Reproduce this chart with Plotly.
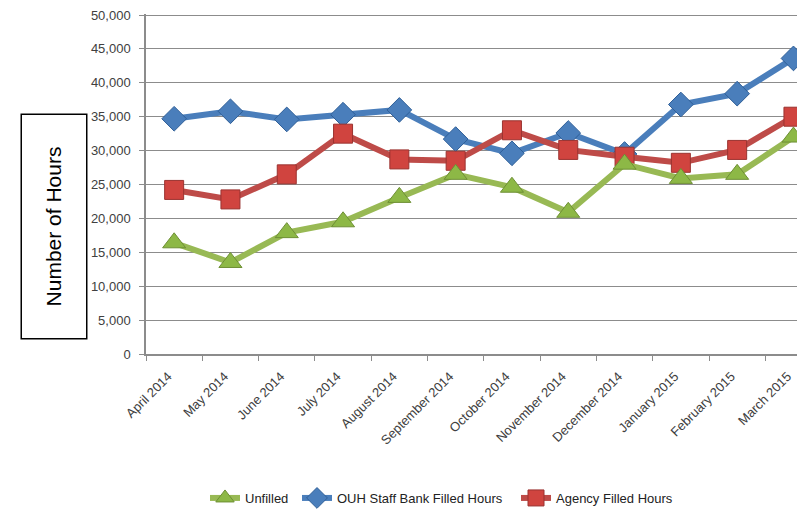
import plotly.graph_objects as go

months = ["April 2014", "May 2014", "June 2014", "July 2014", "August 2014",
          "September 2014", "October 2014", "November 2014", "December 2014",
          "January 2015", "February 2015", "March 2015"]
unfilled = [16400, 13500, 17900, 19500, 23100, 26500, 24600, 20900, 28000, 25900, 26500, 32000]
staff_bank = [34700, 35800, 34600, 35300, 36000, 31700, 29600, 32600, 29500, 36800, 38400, 43600]
agency = [24200, 22800, 26500, 32500, 28700, 28500, 33000, 30100, 29100, 28200, 30100, 35000]

BLUE = "#4A7EBB"
RED = "#BE4B48"
GREEN = "#98B954"
GRID = "#8C8C8C"
TXT = "#404040"
FONT = "Liberation Sans"

# page body has an 8px default margin: work in screen pixels, convert to figure pixels
OFF = 8
FW, FH = 805 - OFF, 514 - OFF
YMAX = 50150  # a little headroom so the 50,000 gridline is drawn
L, W = 146 - OFF, 659
H = 339 * YMAX / 50000
T = 354 - OFF - H

def px_x(sx):
    return (sx - OFF - L) / W

def px_y(sy):
    return (T + H - (sy - OFF)) / H

fig = go.Figure()
fig.add_trace(go.Scatter(
    x=months, y=staff_bank, name="OUH Staff Bank Filled Hours", mode="lines+markers",
    line=dict(color=BLUE, width=6), legend="legend2",
    marker=dict(symbol="diamond", size=19, color=BLUE,
                line=dict(color="#2F5F98", width=1))))
fig.add_trace(go.Scatter(
    x=months, y=agency, name="Agency Filled Hours", mode="lines+markers",
    line=dict(color=RED, width=6), legend="legend3",
    marker=dict(symbol="square", size=19, color="#D0443F",
                line=dict(color="#9A3330", width=1))))
fig.add_trace(go.Scatter(
    x=months, y=unfilled, name="Unfilled", mode="lines+markers",
    line=dict(color=GREEN, width=6), legend="legend",
    marker=dict(symbol="triangle-up", size=20, color="#8DB846",
                line=dict(color="#6E8F35", width=1))))

leg_common = dict(orientation="h", xanchor="left", yanchor="middle", y=px_y(498),
                  font=dict(family=FONT, size=13, color="#222222"),
                  bgcolor="rgba(0,0,0,0)", itemwidth=30)

fig.update_layout(
    width=FW, height=FH,
    margin=dict(l=L, r=FW - L - W, t=T, b=FH - T - H, autoexpand=False),
    paper_bgcolor="white", plot_bgcolor="white",
    font=dict(family=FONT, size=12, color=TXT),
    showlegend=True,
    legend=dict(leg_common, x=px_x(205)),
    legend2=dict(leg_common, x=px_x(297)),
    legend3=dict(leg_common, x=px_x(516)),
    annotations=[dict(
        text="Number of Hours", textangle=-90, xref="paper", yref="paper",
        x=px_x(54), y=px_y(226.5), xanchor="center", yanchor="middle",
        showarrow=False, font=dict(family=FONT, size=21, color="black"),
        width=223, height=64, bordercolor="black", borderwidth=1.5, borderpad=0,
        bgcolor="white")],
)

fig.update_xaxes(
    type="category", categoryorder="array", categoryarray=months, automargin=False,
    range=[-0.5, 11.205], showgrid=False, showline=True, linecolor=GRID, linewidth=1.5,
    ticks="outside", tickson="boundaries", ticklen=5, tickcolor=GRID,
    tickangle=-45, ticklabelshift=-6, ticklabelstandoff=8,
    tickfont=dict(family=FONT, size=13, color=TXT))
fig.update_yaxes(
    range=[0, YMAX], tickmode="linear", tick0=0, dtick=5000, tickformat=",",
    showgrid=True, gridcolor=GRID, ticklabeloverflow="allow",
    gridwidth=1, showline=True, linecolor=GRID, linewidth=1.5, zeroline=False,
    automargin=False, ticks="outside", ticklen=5, tickcolor=GRID, ticklabelstandoff=6,
    tickfont=dict(family=FONT, size=13, color=TXT))

fig.write_html("out.html")
